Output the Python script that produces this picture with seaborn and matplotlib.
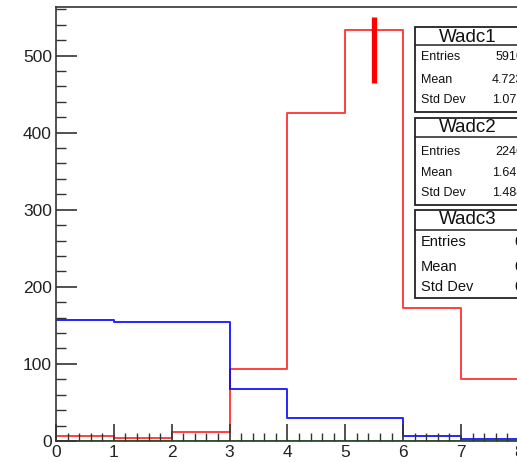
import numpy as np
import pandas as pd
import matplotlib
matplotlib.use("Agg")
import matplotlib.pyplot as plt
import seaborn as sns
from matplotlib.patches import Rectangle

# ---- data ----
bin_edges = [0, 1, 2, 3, 4, 5, 6, 7, 8, 9]
wadc1 = [7, 3.5, 12, 93, 425, 533, 172, 80, 80]
wadc2 = [157, 155, 154, 67, 30, 30, 6, 2, 2]
wadc3 = [0, 0, 0, 0, 0, 0, 0, 0, 0]
marker_x = [5.5]
marker_lo = [465]
marker_hi = [550]
x_ticks = [0, 1, 2, 3, 4, 5, 6, 7, 8]
y_ticks = [0, 100, 200, 300, 400, 500]

stats = [
    ("Wadc1", ["Entries", "Mean", "Std Dev"], ["5916", "4.723", "1.079"]),
    ("Wadc2", ["Entries", "Mean", "Std Dev"], ["2246", "1.647", "1.484"]),
    ("Wadc3", ["Entries", "Mean", "Std Dev"], ["0", "0", "0"]),
]

sns.set_style("white")
plt.rcParams["font.family"] = ["Liberation Sans", "DejaVu Sans"]

W, H = 517, 462
fig = plt.figure(figsize=(W / 100, H / 100), dpi=100)

x0_px, x1unit = 56, 57.86
left = x0_px / W
bottom = (H - 441) / H
height = (441 - 7) / H
width = 10 * x1unit / W
ax = fig.add_axes([left, bottom, width, height])
ax.set_axisbelow(False)

centers = [(bin_edges[i] + bin_edges[i + 1]) / 2 for i in range(len(bin_edges) - 1)]
df = pd.DataFrame({"x": centers * 3,
                   "w": wadc1 + wadc2 + wadc3,
                   "series": ["Wadc1"] * 9 + ["Wadc2"] * 9 + ["Wadc3"] * 9})
colors = {"Wadc1": "#ff0000", "Wadc2": "#0000ff", "Wadc3": "#00ee00"}
for name in ["Wadc3", "Wadc1", "Wadc2"]:
    sub = df[df["series"] == name]
    sns.histplot(data=sub, x="x", weights="w", bins=bin_edges, element="step",
                 fill=False, color=colors[name], linewidth=1.4,
                 alpha=0.75 if name == "Wadc1" else 0.85,
                 ax=ax, zorder=1.5 if name == "Wadc3" else 1.8)

ax.vlines(marker_x, marker_lo, marker_hi, color="#ff0000", linewidth=3.8, zorder=5)

ax.set_xlim(0, 10)
ax.set_ylim(0, 563)
ax.set_xticks(x_ticks)
ax.set_yticks(y_ticks)
ax.set_xticks(np.arange(0, 10.01, 0.2), minor=True)
ax.set_yticks(np.arange(0, 563, 20), minor=True)
ax.tick_params(axis="both", which="both", bottom=True, left=True, top=False, right=False)
ax.tick_params(axis="both", which="major", direction="in", labelsize=12.5, colors="#333333",
               labelcolor="#222222")
ax.tick_params(axis="x", which="major", length=12, width=1.2, pad=3)
ax.tick_params(axis="y", which="major", length=15, width=1.2, pad=3)
ax.tick_params(axis="x", which="minor", direction="in", length=6, width=1.0, colors="#333333")
ax.tick_params(axis="y", which="minor", direction="in", length=7, width=1.0, colors="#333333")
ax.set_xlabel("")
ax.set_ylabel("")
for s in ["left", "top", "bottom", "right"]:
    ax.spines[s].set_color("#333333")
    ax.spines[s].set_linewidth(1.2)

# ---- stat boxes ----
def fx(px):
    return px / W

def fy(py):
    return 1 - py / H

boxes = [
    (27, 45, 112, [57, 80, 100], 37, 9),
    (118, 137, 205, [152, 173, 193], 128, 9),
    (210, 230, 298, [242, 267, 287], 220, 10.5),
]
bx0, bx1 = 415, 521
for (title, labels, vals), (top, div, bot, rows, ty, fs) in zip(stats, boxes):
    fig.patches.append(Rectangle((fx(bx0), fy(bot)), fx(bx1) - fx(bx0), fy(top) - fy(bot),
                                 transform=fig.transFigure, facecolor="white",
                                 edgecolor="#222222", linewidth=1.3, zorder=10))
    fig.lines.append(plt.Line2D([fx(bx0), fx(bx1)], [fy(div), fy(div)],
                                transform=fig.transFigure, color="#222222", linewidth=1.1, zorder=11))
    fig.text(fx(468), fy(ty), title, ha="center", va="center",
             fontsize=13.5, color="#111111", zorder=12)
    for lab, val, ry in zip(labels, vals, rows):
        fig.text(fx(421), fy(ry), lab, ha="left", va="center", fontsize=fs,
                 color="#111111", zorder=12)
        fig.text(fx(523), fy(ry), val, ha="right", va="center", fontsize=fs,
                 color="#111111", zorder=12)

fig.savefig("out.png", dpi=100)
